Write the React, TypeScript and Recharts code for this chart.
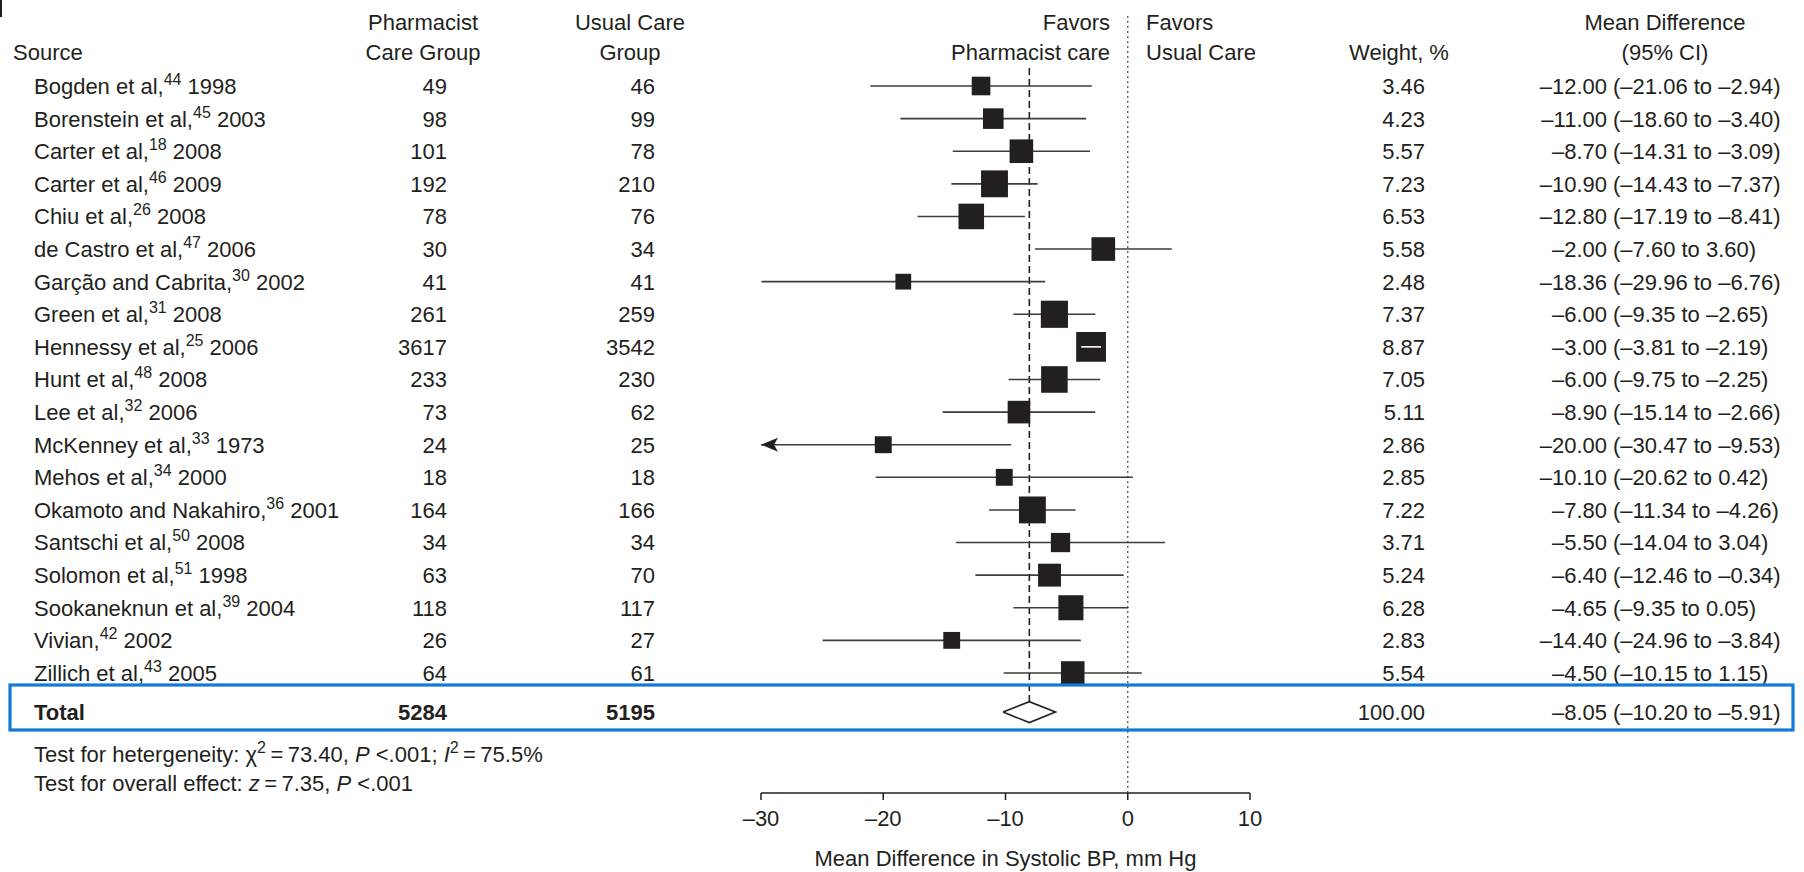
import React from "react"
import { ScatterChart, Scatter, XAxis, YAxis, ZAxis, ErrorBar, ReferenceLine } from "recharts"

// study rows, top to bottom
const sources = [
  "Bogden et al,", "Borenstein et al,", "Carter et al,", "Carter et al,", "Chiu et al,",
  "de Castro et al,", "Garção and Cabrita,", "Green et al,", "Hennessy et al,", "Hunt et al,",
  "Lee et al,", "McKenney et al,", "Mehos et al,", "Okamoto and Nakahiro,", "Santschi et al,",
  "Solomon et al,", "Sookaneknun et al,", "Vivian,", "Zillich et al,",
]
const refs = ["44", "45", "18", "46", "26", "47", "30", "31", "25", "48", "32", "33", "34", "36", "50", "51", "39", "42", "43"]
const years = ["1998", "2003", "2008", "2009", "2008", "2006", "2002", "2008", "2006", "2008", "2006", "1973", "2000", "2001", "2008", "1998", "2004", "2002", "2005"]
const pharmacistN = [49, 98, 101, 192, 78, 30, 41, 261, 3617, 233, 73, 24, 18, 164, 34, 63, 118, 26, 64]
const usualN = [46, 99, 78, 210, 76, 34, 41, 259, 3542, 230, 62, 25, 18, 166, 34, 70, 117, 27, 61]
const weights = [3.46, 4.23, 5.57, 7.23, 6.53, 5.58, 2.48, 7.37, 8.87, 7.05, 5.11, 2.86, 2.85, 7.22, 3.71, 5.24, 6.28, 2.83, 5.54]
const means = [-12.0, -11.0, -8.7, -10.9, -12.8, -2.0, -18.36, -6.0, -3.0, -6.0, -8.9, -20.0, -10.1, -7.8, -5.5, -6.4, -4.65, -14.4, -4.5]
const lows = [-21.06, -18.6, -14.31, -14.43, -17.19, -7.6, -29.96, -9.35, -3.81, -9.75, -15.14, -30.47, -20.62, -11.34, -14.04, -12.46, -9.35, -24.96, -10.15]
const highs = [-2.94, -3.4, -3.09, -7.37, -8.41, 3.6, -6.76, -2.65, -2.19, -2.25, -2.66, -9.53, 0.42, -4.26, 3.04, -0.34, 0.05, -3.84, 1.15]

// pooled result
const totalPharmacist = 5284
const totalUsual = 5195
const totalWeight = 100
const totalMean = -8.05
const totalLow = -10.2
const totalHigh = -5.91

const xTicks = [-30, -20, -10, 0, 10]

// layout
const W = 1804
const H = 872
const PLOT_LEFT = 761
const PLOT_RIGHT = 1250
const PLOT_TOP = 16
const AXIS_Y = 793
const X_MIN = -30
const X_MAX = 10
const ROW0_Y = 86
const ROW_H = 32.61
const TOTAL_ROW = 19.2
const DIAMOND_H = 0.32
const DASH_TOP = -0.55
const PX_PER_UNIT = (PLOT_RIGHT - PLOT_LEFT) / (X_MAX - X_MIN)
const SIZE_PER_WEIGHT = 100

const INK = "#231f20"
const LINE = "#3c3c3c"
const BLUE = "#127ad6"
const FONT = "'Liberation Sans', Arial, Helvetica, sans-serif"

const fmt = (v: number) => (v < 0 ? "\u2013" : "") + Math.abs(v).toFixed(2)
const fmtTick = (v: number) => (v < 0 ? "\u2013" + Math.abs(v) : String(v))

const rows = sources.map((source, i) => ({
  source,
  ref: refs[i],
  year: years[i],
  nP: pharmacistN[i],
  nU: usualN[i],
  weight: weights[i],
  x: means[i],
  y: i,
  lo: lows[i],
  hi: highs[i],
  err: [means[i] - Math.max(lows[i], X_MIN), highs[i] - means[i]],
}))

// a CI short enough to sit inside its box is redrawn in white over the box
const innerLines = rows
  .filter((r) => (r.hi - r.lo) * PX_PER_UNIT < Math.sqrt(SIZE_PER_WEIGHT * r.weight))
  .map((r) => [
    { x: r.lo, y: r.y },
    { x: r.hi, y: r.y },
  ])
const arrowRows = rows.filter((r) => r.lo < X_MIN).map((r) => ({ x: X_MIN, y: r.y }))

const totalRow = [{ x: totalMean, y: TOTAL_ROW }]
const diamond = [
  { x: totalLow, y: TOTAL_ROW },
  { x: totalMean, y: TOTAL_ROW - DIAMOND_H },
  { x: totalHigh, y: TOTAL_ROW },
  { x: totalMean, y: TOTAL_ROW + DIAMOND_H },
  { x: totalLow, y: TOTAL_ROW },
]

const COL_SOURCE = 34
const COL_P = 447
const COL_U = 655
const COL_W = 1425
const COL_EST = 1607
const COL_CI = 1613

const Empty = () => <g />

const Square = (props: any) => {
  const { cx, cy, size } = props
  const s = Math.sqrt(size)
  return <rect x={cx - s / 2} y={cy - s / 2} width={s} height={s} fill={INK} />
}

const Arrow = (props: any) => {
  const { cx, cy } = props
  return <path d={`M${cx},${cy} L${cx + 17},${cy - 7} L${cx + 13},${cy} L${cx + 17},${cy + 7} Z`} fill={INK} />
}

const RowText = (props: any) => {
  const { cy, payload } = props
  return (
    <g fontFamily={FONT} fontSize={22} fill={INK}>
      <text x={COL_SOURCE} y={cy} dy="0.36em">
        {payload.source}
        <tspan fontSize={16} dy={-9}>{payload.ref}</tspan>
        <tspan fontSize={22} dy={9}>{" " + payload.year}</tspan>
      </text>
      <text x={COL_P} y={cy} dy="0.36em" textAnchor="end">{payload.nP}</text>
      <text x={COL_U} y={cy} dy="0.36em" textAnchor="end">{payload.nU}</text>
      <text x={COL_W} y={cy} dy="0.36em" textAnchor="end">{payload.weight.toFixed(2)}</text>
      <text x={COL_EST} y={cy} dy="0.36em" textAnchor="end">{fmt(payload.x)}</text>
      <text x={COL_CI} y={cy} dy="0.36em">{`(${fmt(payload.lo)} to ${fmt(payload.hi)})`}</text>
    </g>
  )
}

const TotalText = (props: any) => {
  const { cy } = props
  return (
    <g fontFamily={FONT} fontSize={22} fill={INK}>
      <text x={COL_SOURCE} y={cy} dy="0.36em" fontWeight="bold">Total</text>
      <text x={COL_P} y={cy} dy="0.36em" textAnchor="end" fontWeight="bold">{totalPharmacist}</text>
      <text x={COL_U} y={cy} dy="0.36em" textAnchor="end" fontWeight="bold">{totalUsual}</text>
      <text x={COL_W} y={cy} dy="0.36em" textAnchor="end">{totalWeight.toFixed(2)}</text>
      <text x={COL_EST} y={cy} dy="0.36em" textAnchor="end">{fmt(totalMean)}</text>
      <text x={COL_CI} y={cy} dy="0.36em">{`(${fmt(totalLow)} to ${fmt(totalHigh)})`}</text>
    </g>
  )
}

export default function App() {
  const yDomain = [(PLOT_TOP - ROW0_Y) / ROW_H, (AXIS_Y - ROW0_Y) / ROW_H]
  const thin = "\u2009"
  return (
    <div style={{ position: "absolute", left: 0, top: 0, width: W, height: H, background: "#fff" }}>
      <ScatterChart
        width={W}
        height={H}
        margin={{ top: PLOT_TOP, right: W - PLOT_RIGHT, bottom: 0, left: PLOT_LEFT }}
      >
        <XAxis
          dataKey="x"
          type="number"
          domain={[X_MIN, X_MAX]}
          ticks={xTicks}
          tickFormatter={fmtTick}
          height={H - AXIS_Y}
          tickSize={7}
          tickMargin={10}
          axisLine={{ stroke: INK, strokeWidth: 1.5 }}
          tickLine={{ stroke: INK, strokeWidth: 1.5 }}
          tick={{ fill: INK, fontSize: 22, fontFamily: FONT }}
          label={{
            value: "Mean Difference in Systolic BP, mm Hg",
            position: "insideBottom",
            offset: 6,
            fill: INK,
            fontSize: 22,
            fontFamily: FONT,
          }}
        />
        <YAxis dataKey="y" type="number" domain={yDomain} reversed hide />
        <ZAxis dataKey="weight" type="number" domain={[0, 10]} range={[0, 10 * SIZE_PER_WEIGHT]} />

        <ReferenceLine x={0} stroke="#555" strokeWidth={1.3} strokeDasharray="2 3" />
        <ReferenceLine
          segment={[
            { x: totalMean, y: DASH_TOP },
            { x: totalMean, y: TOTAL_ROW - DIAMOND_H },
          ]}
          stroke={INK}
          strokeWidth={1.6}
          strokeDasharray="7 4"
        />

        <Scatter data={rows} shape={Empty} isAnimationActive={false}>
          <ErrorBar dataKey="err" direction="x" width={0} stroke={LINE} strokeWidth={1.6} isAnimationActive={false} />
        </Scatter>
        <Scatter data={rows} shape={Square} isAnimationActive={false} />
        {innerLines.map((pts, i) => (
          <Scatter
            key={`inner-${i}`}
            data={pts}
            shape={Empty}
            line={{ stroke: "#fff", strokeWidth: 1.6 }}
            lineType="joint"
            isAnimationActive={false}
          />
        ))}
        <Scatter data={arrowRows} shape={Arrow} isAnimationActive={false} />
        <Scatter
          data={diamond}
          shape={Empty}
          fill="#fff"
          line={{ stroke: INK, strokeWidth: 1.6 }}
          lineType="joint"
          isAnimationActive={false}
        />
        <Scatter data={rows} shape={RowText} isAnimationActive={false} />
        <Scatter data={totalRow} shape={TotalText} isAnimationActive={false} />
      </ScatterChart>

      <svg
        width={W}
        height={H}
        style={{ position: "absolute", left: 0, top: 0, pointerEvents: "none" }}
        fontFamily={FONT}
        fontSize={22}
        fill={INK}
      >
        <rect x={0} y={0} width={2} height={17} fill={INK} />
        <text x={13} y={60}>Source</text>
        <text x={423} y={30} textAnchor="middle">Pharmacist</text>
        <text x={423} y={60} textAnchor="middle">Care Group</text>
        <text x={630} y={30} textAnchor="middle">Usual Care</text>
        <text x={630} y={60} textAnchor="middle">Group</text>
        <text x={1110} y={30} textAnchor="end">Favors</text>
        <text x={1110} y={60} textAnchor="end">Pharmacist care</text>
        <text x={1146} y={30}>Favors</text>
        <text x={1146} y={60}>Usual Care</text>
        <text x={1399} y={60} textAnchor="middle">Weight, %</text>
        <text x={1665} y={30} textAnchor="middle">Mean Difference</text>
        <text x={1665} y={60} textAnchor="middle">(95% CI)</text>

        <text x={34} y={762}>
          {"Test for hetergeneity: \u03c7"}
          <tspan fontSize={16} dy={-9}>2</tspan>
          <tspan fontSize={22} dy={9}>{`${thin}=${thin}73.40, `}</tspan>
          <tspan fontStyle="italic">P</tspan>
          {` <.001; `}
          <tspan fontStyle="italic">I</tspan>
          <tspan fontSize={16} dy={-9}>2</tspan>
          <tspan fontSize={22} dy={9}>{`${thin}=${thin}75.5%`}</tspan>
        </text>
        <text x={34} y={791}>
          {"Test for overall effect: "}
          <tspan fontStyle="italic">z</tspan>
          {`${thin}=${thin}7.35, `}
          <tspan fontStyle="italic">P</tspan>
          {` <.001`}
        </text>

        <rect x={10} y={685} width={1783} height={45} fill="none" stroke={BLUE} strokeWidth={3.2} />
      </svg>
    </div>
  )
}
